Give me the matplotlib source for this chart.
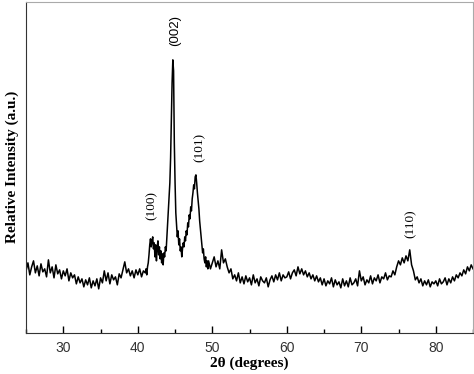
import numpy as np
import matplotlib
matplotlib.use("Agg")
import matplotlib.pyplot as plt
from matplotlib.ticker import MultipleLocator

# intensity (arbitrary units), three sampling segments
seg_a = [  # 25.00 .. 40.75, step 0.25
    62, 70, 58, 66, 72, 60, 67, 57,
    69, 61, 64, 56, 73, 60, 66, 55,
    68, 59, 63, 54, 62, 57, 64, 52,
    60, 55, 58, 49, 56, 50, 54, 46,
    53, 48, 55, 45, 52, 47, 54, 44,
    55, 50, 62, 52, 60, 49, 58, 53,
    56, 48, 59, 55, 63, 71, 60, 64,
    57, 62, 55, 63, 58, 64, 56, 62,
]
seg_b = [  # 41.0 .. 49.4, step 0.1
    60, 64, 58, 66, 70, 78, 88, 94, 86, 92,
    96, 84, 90, 76, 88, 72, 85, 92, 78, 86,
    74, 82, 70, 79, 68, 80, 76, 86, 82, 96,
    110, 125, 138, 150, 175, 215, 250, 273, 262, 190,
    150, 120, 108, 96, 102, 88, 94, 82, 86, 76,
    84, 90, 86, 96, 92, 102, 98, 110, 106, 118,
    114, 126, 122, 134, 140, 148, 144, 156, 158, 150,
    140, 132, 124, 112, 104, 96, 88, 80, 84, 74,
    70, 76, 66, 72, 64,
]
seg_c = [  # 49.50 .. 85.00, step 0.25
    72, 64,
    70, 76, 66, 72,
    64, 83, 70, 74,
    66, 60, 64, 54,
    58, 52, 60, 50,
    56, 49, 57, 51,
    55, 48, 58, 50,
    54, 47, 56, 52,
    50, 55, 46, 53,
    57, 51, 58, 53,
    60, 52, 58, 55,
    56, 61, 54, 60,
    63, 57, 66, 59,
    64, 58, 62, 56,
    60, 54, 58, 52,
    57, 51, 55, 48,
    54, 47, 52, 49,
    55, 46, 53, 48,
    51, 45, 54, 47,
    52, 46, 55, 48,
    50, 54, 47, 62,
    52, 56, 48, 53,
    50, 57, 49, 55,
    52, 58, 50, 56,
    54, 60, 53, 57,
    56, 62, 58, 66,
    72, 68, 75, 70,
    77, 72, 83, 68,
    62, 53, 56, 50,
    54, 47, 52, 48,
    53, 46, 51, 49,
    52, 47, 54, 49,
    51, 55, 48, 54,
    50, 56, 52, 58,
    55, 60, 57, 63,
    59, 66, 62, 68,
    64,
]

x_a = 25 + 0.25 * np.arange(len(seg_a))
x_b = 41 + 0.1 * np.arange(len(seg_b))
x_c = 49.5 + 0.25 * np.arange(len(seg_c))
two_theta = np.concatenate([x_a, x_b, x_c])
intensity = np.array(seg_a + seg_b + seg_c, dtype=float)

peak_labels = ["(100)", "(002)", "(101)", "(110)"]
peak_x = [41.9, 45.05, 48.3, 76.6]
peak_y = [127, 302, 185, 109]

fig = plt.figure(figsize=(4.74, 3.74), dpi=100)
ax = fig.add_axes([0.055, 0.11, 0.943, 0.885])
ax.plot(two_theta, intensity, color="black", lw=1.1)

ax.set_xlim(25, 85)
ax.set_ylim(0, 331)
ax.xaxis.set_major_locator(MultipleLocator(10))
ax.xaxis.set_minor_locator(MultipleLocator(5))
ax.tick_params(axis="x", which="major", direction="in", length=5, width=1,
               labelsize=10, pad=6, labelcolor="#333333")
ax.tick_params(axis="x", which="minor", direction="in", length=3, width=1)
ax.set_yticks([])
for lab in ax.get_xticklabels():
    lab.set_family("Liberation Sans")
for side in ["top", "right"]:
    ax.spines[side].set_color("#aaaaaa")
for side in ["left", "bottom"]:
    ax.spines[side].set_color("#333333")

ax.set_xlabel("2θ (degrees)", family="Liberation Serif", fontweight="bold",
              fontsize=11, labelpad=1)
ax.set_ylabel("Relative Intensity (a.u.)", family="Liberation Serif",
              fontweight="bold", fontsize=11, labelpad=5)

for lab, px, py in zip(peak_labels, peak_x, peak_y):
    fam = "Liberation Sans" if lab == "(002)" else "Liberation Serif"
    ax.text(px, py, lab, rotation=90, ha="center", va="center",
            family=fam, fontsize=9.5)

fig.savefig("out.png", dpi=100)
